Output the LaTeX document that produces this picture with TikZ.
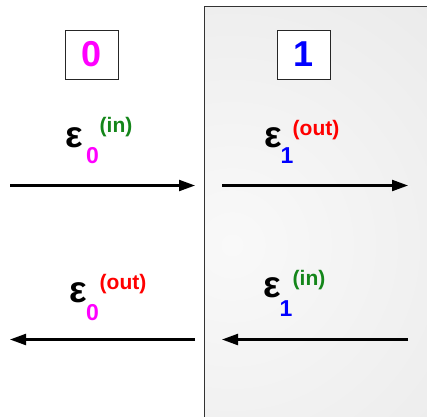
\documentclass[tikz,border=0pt]{standalone}
\usepackage{fontspec}
\setmainfont{Liberation Sans}
\usetikzlibrary{arrows.meta}
\definecolor{mag}{HTML}{FF00FF}
\definecolor{blu}{HTML}{0000FF}
\definecolor{rd}{HTML}{FF0000}
\definecolor{grn}{HTML}{14861A}
\definecolor{panelin}{HTML}{F9F9F9}
\definecolor{panelout}{HTML}{DCDCDC}
\pgfdeclareradialshading{panel}{\pgfpoint{0bp}{0bp}}{color(0bp)=(panelin); color(50bp)=(panelout)}
\tikzset{
  numbox/.style={draw=black!85, line width=0.9pt, fill=white, minimum width=53pt, minimum height=49pt, inner sep=0pt, font=\fontsize{36}{36}\selectfont\bfseries},
  eps/.style={inner sep=0pt, anchor=base west, font=\fontsize{37}{37}\selectfont\bfseries},
  sub/.style={inner sep=0pt, anchor=base west, font=\fontsize{23}{23}\selectfont\bfseries},
  sup/.style={inner sep=0pt, anchor=base west, font=\fontsize{21}{21}\selectfont\bfseries},
  flow/.style={line width=2.2pt, -{Triangle[length=16pt,width=11pt]}},
}
\begin{document}
\begin{tikzpicture}[x=1pt,y=-1pt]
\useasboundingbox (0,0) rectangle (427,416);
\begin{scope}
  \clip (204.5,6) rectangle (430,420);
  \shade[shading=panel] (232,245) circle (320);
\end{scope}
\draw[black!80, line width=1pt] (204.5,420) -- (204.5,6) -- (430,6);

\node[numbox, text=mag] (zero) at (91.5,54.5) {0};
\node[numbox, text=blu] (one) at (303.5,54.5) {1};

% top-left
\node[eps] (e0a) at (65.5,147) {ε};
\node[sub, text=mag] (s0a) at (86,163) {0};
\node[sup, text=grn] (p0a) at (99.5,132.5) {(in)};
% top-right
\node[eps] (e1a) at (264.5,147) {ε};
\node[sub, text=blu] (s1a) at (280.5,163) {1};
\node[sup, text=rd] (p1a) at (292.5,135) {(out)};
% bottom-left
\node[eps] (e0b) at (69.5,302) {ε};
\node[sub, text=mag] (s0b) at (86,320) {0};
\node[sup, text=rd] (p0b) at (99.5,289) {(out)};
% bottom-right
\node[eps] (e1b) at (263.5,297) {ε};
\node[sub, text=blu] (s1b) at (279.5,316) {1};
\node[sup, text=grn] (p1b) at (292.5,285) {(in)};

\coordinate (a1s) at (10,185.5);
\coordinate (a1e) at (195,185.5);
\coordinate (a2s) at (222,185.5);
\coordinate (a2e) at (408,185.5);
\coordinate (b1s) at (195,339.5);
\coordinate (b1e) at (10,339.5);
\coordinate (b2s) at (408,339.5);
\coordinate (b2e) at (222,339.5);
\draw[flow] (a1s) -- (a1e);
\draw[flow] (a2s) -- (a2e);
\draw[flow] (b1s) -- (b1e);
\draw[flow] (b2s) -- (b2e);
\end{tikzpicture}
\end{document}
